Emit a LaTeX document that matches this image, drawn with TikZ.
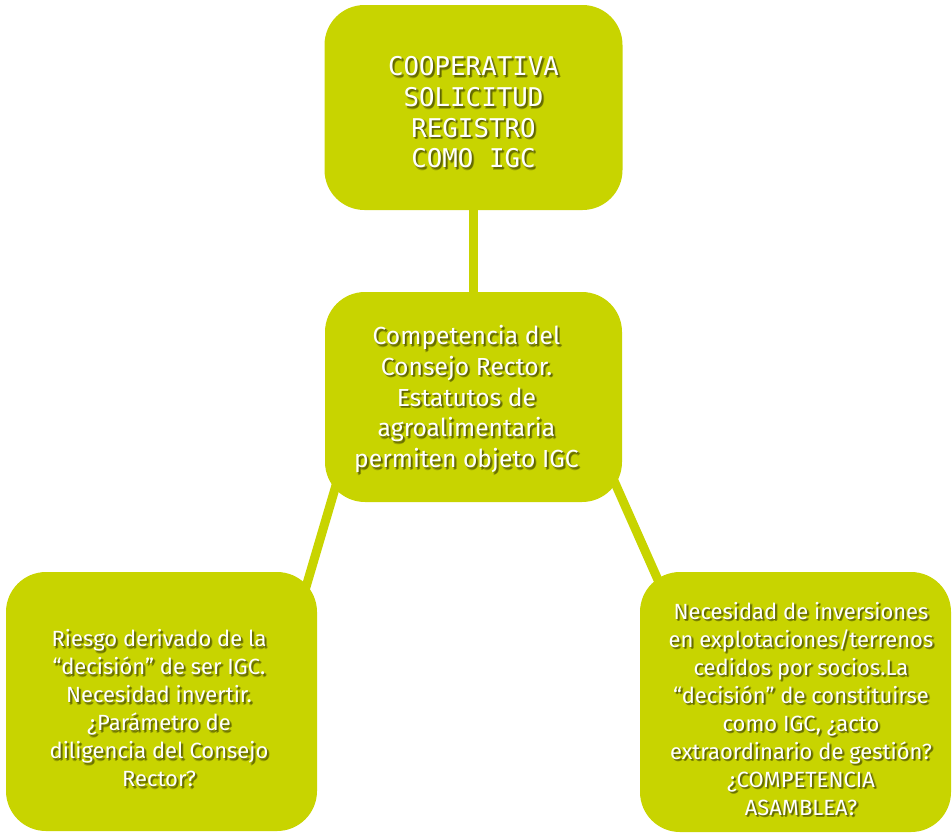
\documentclass[tikz,border=0pt]{standalone}
\usepackage{fontspec}
\setmainfont{Fira Sans}
\newfontfamily\monof{DejaVu Sans Mono}
\usetikzlibrary{calc,backgrounds}
\definecolor{lime}{HTML}{C8D400}
\newcommand{\ttop}{COOPERATIVA\\SOLICITUD\\REGISTRO\\COMO IGC}
\newcommand{\tmid}{Competencia del\\Consejo Rector.\\Estatutos de\\agroalimentaria\\permiten objeto IGC}
\newcommand{\tbl}{Riesgo derivado de la\\“decisión” de ser IGC.\\Necesidad invertir.\\¿Parámetro de\\diligencia del Consejo\\Rector?}
\newcommand{\tbr}{Necesidad de inversiones\\en explotaciones/terrenos\\cedidos por socios.La\\“decisión” de constituirse\\como IGC, ¿acto\\extraordinario de gestión?\\¿COMPETENCIA\\ASAMBLEA?}
\begin{document}
\begin{tikzpicture}[x=1pt,y=-1pt,
  box/.style={fill=lime, rounded corners=40pt, draw=none, inner sep=0pt},
  link/.style={draw=lime, line width=9pt},
  txt/.style={text=white, align=center, inner sep=0pt},
  shd/.style={text=black!70!lime, text opacity=0.3},
  bigf/.style={font=\fontsize{24.7}{30.75}\selectfont},
  smallf/.style={font=\fontsize{22}{28}\selectfont},
  monf/.style={font=\monof\fontsize{25.8}{30.7}\selectfont}]
\useasboundingbox (0,0) rectangle (952,833);
% boxes
\node[box, minimum width=298pt, minimum height=205pt] (top) at (473.5,107.5) {};
\node[box, minimum width=297pt, minimum height=210pt] (mid) at (473.5,397) {};
\node[box, minimum width=311pt, minimum height=259pt] (bl) at (161.5,701.5) {};
\node[box, minimum width=311pt, minimum height=260pt] (br) at (795.5,702) {};
% connectors
\begin{pgfonlayer}{background}
\draw[link] (top.south) -- (mid.north);
\draw[link] ($(mid.south west)+(18,-40)$) -- ($(bl.north east)+(-15,28)$);
\draw[link] ($(mid.south east)+(-12,-30)$) -- ($(br.north west)+(27,28)$);
\end{pgfonlayer}
% texts: soft shadows
\foreach \dx/\dy/\k in {1/1/a, 2/2/b, 2.5/1.5/c, 1.5/2.5/d} {
  \node[txt, shd, monf] (topS\k) at (473.5+\dx,112.5+\dy) {\ttop};
  \node[txt, shd, bigf] (midS\k) at (466.5+\dx,399+\dy) {\tmid};
  \node[txt, shd, smallf] (blS\k) at (159+\dx,708.5+\dy) {\tbl};
  \node[txt, shd, smallf] (brS\k) at (801+\dx,709+\dy) {\tbr};
}
\node[txt, monf] (topT) at (473.5,112.5) {\ttop};
\node[txt, bigf] (midT) at (466.5,399) {\tmid};
\node[txt, smallf] (blT) at (159,708.5) {\tbl};
\node[txt, smallf] (brT) at (801,709) {\tbr};
\end{tikzpicture}
\end{document}
